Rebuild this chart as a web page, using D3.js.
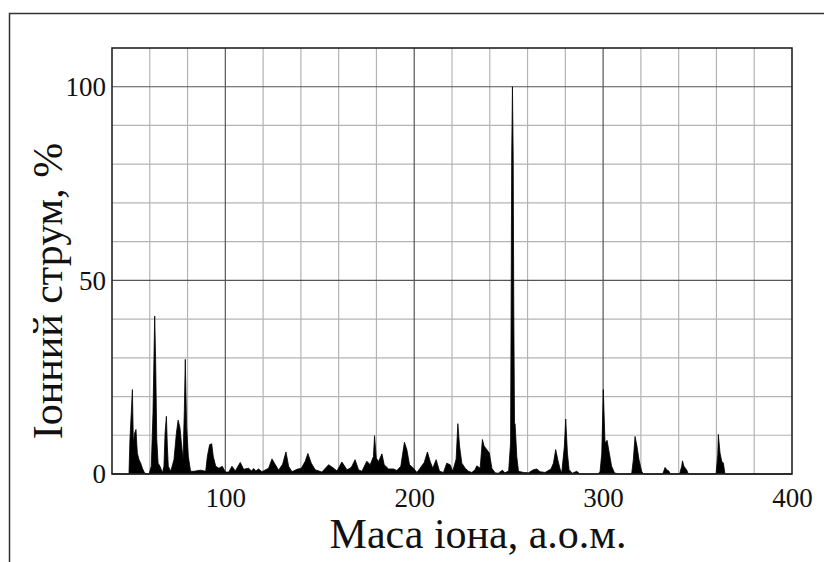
<!DOCTYPE html>
<meta charset="utf-8">
<script src="https://d3js.org/d3.v7.min.js"></script>
<style>
  body { margin: 0; background: #fff; }
  text { font-family: "Liberation Serif", "Times New Roman", serif; fill: #111; }
</style>
<div id="chart"></div>
<script>

  // mass spectrum (mass in a.m.u., ion current in %)
  var masses = [
    40, 48.5, 49, 49.5, 50.2, 50.8, 51.3, 52, 52.7, 53.4, 54.3, 55.2, 56.1, 57.3, 59.6,
    60.8, 61.7, 62.2, 62.6, 63.1, 63.7, 64.4, 65.4, 66.7, 67.5, 68.1, 68.8, 69.3, 69.8,
    71.1, 72.8, 74.1, 75, 76, 76.9, 77.6, 78.3, 78.8, 79.5, 80.4, 81.6, 83.4, 86.9, 89.6,
    90.5, 91.7, 92.8, 93.6, 94.9, 96.6, 98.4, 100,
    101.8, 103.5, 105.3, 107.9, 109.7, 112.3, 113.8, 115, 116.2, 117.6, 119.4, 122.9,
    124.7, 126.5, 128.2, 130.3, 132.1, 133.5, 135.3, 137.9, 140.2, 142.3, 143.7, 145.5,
    147.6, 151.1, 154.7, 157.3, 159.1, 161.7, 164.4, 166.1,
    167, 168.7, 170.5, 172.3, 174.9, 176.7, 178.4, 179, 179.9, 181.1, 182.9, 184.1,
    186.4, 189, 190.8, 192.9, 194.8, 196.1, 197.5, 199.6, 201.4, 203.1, 205.3, 207,
    208.4, 209.8, 211.6, 213.4, 215.5, 217.2, 219, 220.4, 222.2, 223.1, 224, 225.2,
    227, 228.7, 230.5, 232.2, 233.1, 234.9, 236.1, 237, 238.4, 239.8, 241.1, 242.8,
    244.5, 246.7, 248, 250, 251, 251.3, 251.6, 252, 252.4, 252.7, 253.1, 253.4,
    254.3, 255.2, 257.8, 260.5, 263.1, 264.9, 266.6, 269.3, 272.4, 273.7, 274.9, 276,
    277.2, 278.1, 279.5, 280.2, 281.1, 282, 283.7, 286, 287.8, 297.5, 298.4, 299.3,
    300.1, 301, 302.1, 303.1, 304.5, 306, 308.1, 315.1, 316, 316.9, 317.9, 319, 320.4,
    321.3, 331.5, 332.3, 332.8, 333.7, 334.9, 335.6, 340.5, 341.6, 342, 342.8, 344.3,
    345.1, 359.8, 360.7, 361, 361.9, 362.8, 363.7, 364.5, 400
  ];
  var ionCurrent = [
    0, 0, 0.3, 8.9, 15.8, 21.8, 8, 10.6, 11.5, 5.4, 3.7, 2.8, 1.5, 0.2, 0,
    2, 15.8, 29.6, 40.8, 29.6, 8.9, 2.8, 2, 0.3, 2, 10.6, 14.9, 7.2, 2,
    0.7, 3.7, 10.6, 13.9, 11.9, 7.2, 3.7, 16.6, 29.6, 12.3, 4.6, 0.7, 0.7, 1, 0.7,
    4.6, 7.6, 7.8, 4.6, 2, 1.5, 2, 0.5,
    0.5, 2, 0.8, 3, 1.2, 1.5, 0.8, 1.4, 0.8, 1.3, 0.6, 1.5,
    3.9, 2.4, 1, 2.5, 5.7, 2, 0.6, 1.2, 1.5, 3.3, 5.3, 2.8,
    1.1, 0.5, 2.4, 1.5, 0.8, 3.1, 1.1, 1.5,
    2, 3.7, 1.1, 0.7, 3.3, 2.4, 4.5, 9.9, 4.1, 3.2, 5.2, 2.4,
    1.3, 1.3, 0.9, 2, 8.2, 6.3, 2.4, 1.5, 0.4, 1.5, 3, 5.7,
    3.3, 1.5, 3.7, 0.7, 0.4, 2.8, 2.4, 0.7, 3.9, 13, 7.2, 2.8,
    1.5, 0.7, 0.4, 1.1, 2.1, 1.5, 8.9, 7.2, 6.3, 5.4, 1.5, 0.3,
    0.2, 1, 0.3, 0.8, 8, 43, 82, 100, 82, 43, 13, 13,
    4.5, 0.7, 0.4, 0.3, 1.1, 1.3, 0.6, 0.4, 1.3, 2.8, 6.3, 3.7,
    1.3, 0.3, 7.2, 14.2, 5.4, 1.1, 0.2, 0.7, 0, 0, 0.7, 5.4,
    21.8, 8, 8.7, 5.9, 2, 0.3, 0, 0, 3.7, 9.7, 7.2, 3.7, 0.7,
    0, 0, 1, 1.7, 1.1, 0.7, 0, 0, 2, 3.4, 2, 1,
    0, 0, 5, 10.2, 5.4, 3.3, 2.8, 0, 0
  ];

  var xTicks = [100, 200, 300, 400];
  var yTicks = [0, 50, 100];
  var xMinor = [60, 80, 120, 140, 160, 180, 220, 240, 260, 280, 320, 340, 360, 380];
  var yMinor = [10, 20, 30, 40, 60, 70, 80, 90];
  var xMajor = [100, 200, 300];
  var yMajor = [50, 100];

  var W = 824, H = 562;
  var margin = { top: 48, right: 32, bottom: 88, left: 112 },
    width = W - margin.left - margin.right,
    height = H - margin.top - margin.bottom;

  var root = d3.select("#chart")
    .append("svg")
    .attr("width", W)
    .attr("height", H);

  // outer frame (top and left edges only are visible)
  root.append("path")
    .attr("d", "M9.5,562V13.5H824")
    .attr("fill", "none")
    .attr("stroke", "#333")
    .attr("stroke-width", 1.5);

  var svg = root.append("g")
    .attr("transform", "translate(" + margin.left + "," + margin.top + ")");

  var x = d3.scaleLinear().domain([40, 400]).range([0, width]);
  var y = d3.scaleLinear().domain([0, 110]).range([height, 0]);

  // grid
  svg.append("g").selectAll("line")
    .data(xMinor).enter().append("line")
    .attr("x1", d => x(d)).attr("x2", d => x(d))
    .attr("y1", 0).attr("y2", height)
    .attr("stroke", "#b4b4b4").attr("stroke-width", 1.2);
  svg.append("g").selectAll("line")
    .data(yMinor).enter().append("line")
    .attr("y1", d => y(d)).attr("y2", d => y(d))
    .attr("x1", 0).attr("x2", width)
    .attr("stroke", "#b4b4b4").attr("stroke-width", 1.2);
  svg.append("g").selectAll("line")
    .data(xMajor).enter().append("line")
    .attr("x1", d => x(d)).attr("x2", d => x(d))
    .attr("y1", 0).attr("y2", height)
    .attr("stroke", "#555").attr("stroke-width", 1.2);
  svg.append("g").selectAll("line")
    .data(yMajor).enter().append("line")
    .attr("y1", d => y(d)).attr("y2", d => y(d))
    .attr("x1", 0).attr("x2", width)
    .attr("stroke", "#555").attr("stroke-width", 1.2);

  // spectrum
  var pts = masses.map((m, i) => [m, ionCurrent[i]]);
  var area = d3.area()
    .x(d => x(d[0]))
    .y0(height)
    .y1(d => y(d[1]));
  svg.append("path")
    .datum(pts)
    .attr("d", area)
    .attr("fill", "#000")
    .attr("stroke", "#000")
    .attr("stroke-width", 0.8)
    .attr("stroke-linejoin", "miter");

  // plot frame
  svg.append("rect")
    .attr("x", 0).attr("y", 0)
    .attr("width", width).attr("height", height)
    .attr("fill", "none")
    .attr("stroke", "#222")
    .attr("stroke-width", 1.6);

  // axes (labels only, no tick marks)
  var xAxis = svg.append("g")
    .attr("transform", "translate(0," + height + ")")
    .call(d3.axisBottom(x).tickValues(xTicks).tickSize(0).tickPadding(14));
  var yAxis = svg.append("g")
    .call(d3.axisLeft(y).tickValues(yTicks).tickSize(0).tickPadding(6));
  [xAxis, yAxis].forEach(function (a) {
    a.select(".domain").remove();
    a.selectAll("text")
      .attr("font-family", "Liberation Serif, serif")
      .attr("font-size", 27)
      .attr("fill", "#111");
  });

  // axis titles
  svg.append("text")
    .attr("text-anchor", "middle")
    .attr("x", 366)
    .attr("y", height + 74)
    .attr("font-size", 42)
    .text("Маса іона, а.о.м.");

  svg.append("text")
    .attr("text-anchor", "middle")
    .attr("transform", "rotate(-90)")
    .attr("x", -243)
    .attr("y", -50)
    .attr("font-size", 42)
    .text("Іонний струм, %");

</script>
